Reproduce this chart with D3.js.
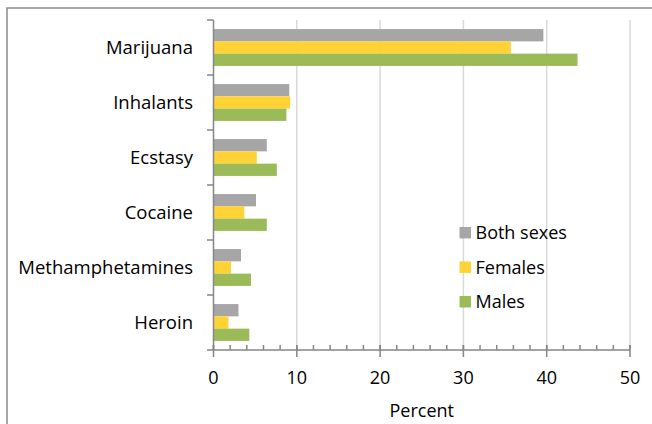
<!DOCTYPE html>
<html><head><meta charset="utf-8">
<script src="https://cdn.jsdelivr.net/npm/d3@7"></script>
<style>
html,body{margin:0;padding:0;background:#fff;}
svg{display:block;}
text{font-family:"Open Sans",sans-serif;fill:#000;}
</style></head>
<body>
<svg id="chart" width="652" height="424"></svg>
<script>
const categories = ["Marijuana","Inhalants","Ecstasy","Cocaine","Methamphetamines","Heroin"];
const seriesNames = ["Both sexes","Females","Males"];
const bothSexes = [39.6, 9.1, 6.4, 5.1, 3.3, 3.0];
const females   = [35.7, 9.2, 5.2, 3.7, 2.1, 1.8];
const males     = [43.7, 8.75, 7.6, 6.4, 4.5, 4.3];
const colors = ["#a6a6a6","#ffd335","#9bbb59"];
const xTicks = [0,10,20,30,40,50];
const xMinorTicks = d3.range(0, 51, 2);
const xLabel = "Percent";

const series = [bothSexes, females, males];
const svg = d3.select("#chart");

// frame
svg.append("path").attr("d","M7,430 L7,8 L660,8").attr("fill","none")
  .attr("stroke","#8c8c8c").attr("stroke-width",1.5);

const pL = 213.5, pR = 630, pT = 20, pB = 350;
const x = d3.scaleLinear().domain([0,50]).range([pL,pR]);
const y = d3.scaleBand().domain(categories).range([pT,pB]).paddingInner(0.33).paddingOuter(0.165);
const yi = d3.scaleBand().domain(d3.range(3)).range([0,y.bandwidth()]);

// gridlines
svg.append("g").selectAll("line").data(xTicks.slice(1)).join("line")
  .attr("x1",d=>x(d)).attr("x2",d=>x(d)).attr("y1",pT).attr("y2",pB)
  .attr("stroke","#d9d9d9").attr("stroke-width",1.5);

// bars
categories.forEach((c,i)=>{
  series.forEach((s,j)=>{
    svg.append("rect").attr("x",x(0)).attr("y",y(c)+yi(j))
      .attr("width",x(s[i])-x(0)).attr("height",yi.bandwidth())
      .attr("fill",colors[j]);
  });
});

// y axis
const bounds = d3.range(categories.length+1).map(k=>pT + k*(pB-pT)/categories.length);
svg.append("line").attr("x1",pL).attr("x2",pL).attr("y1",pT).attr("y2",pB)
  .attr("stroke","#868686").attr("stroke-width",1.5);
svg.append("g").selectAll("line").data(bounds).join("line")
  .attr("x1",pL-6.5).attr("x2",pL).attr("y1",d=>d).attr("y2",d=>d)
  .attr("stroke","#868686").attr("stroke-width",1.5);
svg.append("g").selectAll("text").data(categories).join("text")
  .attr("x",193).attr("y",d=>y(d)+y.bandwidth()/2).attr("dy","0.35em")
  .attr("text-anchor","end").attr("font-size",18.5).text(d=>d);

// x axis
svg.append("line").attr("x1",pL).attr("x2",pR).attr("y1",pB).attr("y2",pB)
  .attr("stroke","#868686").attr("stroke-width",1.5);
svg.append("g").selectAll("line").data(xMinorTicks).join("line")
  .attr("x1",d=>x(d)).attr("x2",d=>x(d)).attr("y1",pB-5).attr("y2",pB)
  .attr("stroke","#868686").attr("stroke-width",1.5);
svg.append("g").selectAll("line").data(xTicks).join("line")
  .attr("x1",d=>x(d)).attr("x2",d=>x(d)).attr("y1",pB-5).attr("y2",pB+7)
  .attr("stroke","#868686").attr("stroke-width",1.5);
svg.append("g").selectAll("text").data(xTicks).join("text")
  .attr("x",d=>x(d)).attr("y",384).attr("text-anchor","middle").attr("font-size",18).text(d=>d);
svg.append("text").attr("x",(pL+pR)/2).attr("y",417).attr("text-anchor","middle")
  .attr("font-size",18).text(xLabel);

// legend
const lg = svg.append("g");
seriesNames.forEach((n,j)=>{
  const cy = 232.7 + j*34.5;
  lg.append("rect").attr("x",459.5).attr("y",cy-5.75).attr("width",11.5).attr("height",11.5).attr("fill",colors[j]);
  lg.append("text").attr("x",475.5).attr("y",cy).attr("dy","0.35em").attr("font-size",18).text(n);
});
</script>
</body></html>
